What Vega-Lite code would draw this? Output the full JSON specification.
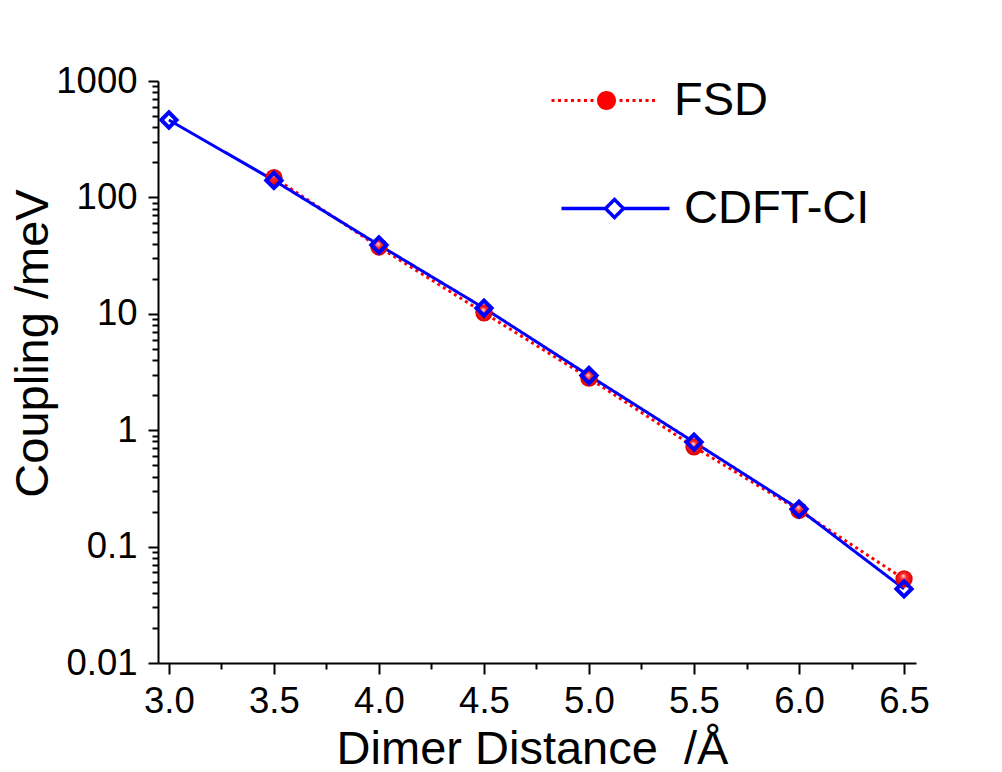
{
  "$schema": "https://vega.github.io/schema/vega-lite/v6.json",
  "width": 758,
  "height": 582,
  "autosize": {"type": "none"},
  "padding": {"left": 158, "top": 81, "right": 86, "bottom": 109},
  "background": "white",
  "config": {
    "view": {"stroke": null},
    "font": "Liberation Sans",
    "axis": {"grid": false, "domainColor": "black", "domainWidth": 2, "tickColor": "black", "tickWidth": 2, "labelColor": "black", "titleColor": "black", "labelFont": "Liberation Sans", "titleFont": "Liberation Sans", "titleFontWeight": "normal"}
  },
  "data": {
    "values": [
      {"d": 3.5, "series": "FSD", "coupling": 148},
      {"d": 4.0, "series": "FSD", "coupling": 37.5},
      {"d": 4.5, "series": "FSD", "coupling": 10.2},
      {"d": 5.0, "series": "FSD", "coupling": 2.8},
      {"d": 5.5, "series": "FSD", "coupling": 0.72},
      {"d": 6.0, "series": "FSD", "coupling": 0.205},
      {"d": 6.5, "series": "FSD", "coupling": 0.0527},
      {"d": 3.0, "series": "CDFT-CI", "coupling": 462},
      {"d": 3.5, "series": "CDFT-CI", "coupling": 140},
      {"d": 4.0, "series": "CDFT-CI", "coupling": 39},
      {"d": 4.5, "series": "CDFT-CI", "coupling": 11.2},
      {"d": 5.0, "series": "CDFT-CI", "coupling": 2.95},
      {"d": 5.5, "series": "CDFT-CI", "coupling": 0.79},
      {"d": 6.0, "series": "CDFT-CI", "coupling": 0.21},
      {"d": 6.5, "series": "CDFT-CI", "coupling": 0.0433}
    ]
  },
  "layer": [
    {
      "mark": {"type": "line", "strokeWidth": 3},
      "encoding": {
        "x": {"field": "d", "type": "quantitative", "scale": {"domain": [2.948, 6.557], "nice": false, "zero": false},
          "axis": {"values": [3.0, 3.25, 3.5, 3.75, 4.0, 4.25, 4.5, 4.75, 5.0, 5.25, 5.5, 5.75, 6.0, 6.25, 6.5], "tickCount": 100,
            "labelExpr": "(datum.value * 2) % 1 == 0 ? format(datum.value, '.1f') : ''",
            "tickSize": {"condition": {"test": "(datum.value * 2) % 1 == 0", "value": 11}, "value": 6},
            "labelFontSize": 36.5, "labelBaseline": "alphabetic", "labelPadding": 38, "labelFlush": false, "labelOverlap": false,
            "title": "Dimer Distance\u00a0\u00a0/Å", "titleFontSize": 47, "titleX": 374, "titleY": 100, "titleBaseline": "alphabetic", "titleAnchor": null}},
        "y": {"field": "coupling", "type": "quantitative", "scale": {"type": "log", "domain": [0.01, 1000], "nice": false},
          "axis": {"values": [0.01, 0.02, 0.03, 0.04, 0.05, 0.06, 0.07, 0.08, 0.09, 0.1, 0.2, 0.3, 0.4, 0.5, 0.6, 0.7, 0.8, 0.9, 1, 2, 3, 4, 5, 6, 7, 8, 9, 10, 20, 30, 40, 50, 60, 70, 80, 90, 100, 200, 300, 400, 500, 600, 700, 800, 900, 1000], "tickCount": 100,
            "labelExpr": "indexof([0.01, 0.1, 1, 10, 100, 1000], datum.value) >= 0 ? format(datum.value, '~g') : ''",
            "tickSize": {"condition": {"test": "indexof([0.01, 0.1, 1, 10, 100, 1000], datum.value) >= 0", "value": 10}, "value": 6},
            "labelFontSize": 36.5, "labelPadding": 11, "labelFlush": false, "labelOverlap": false,
            "title": "Coupling /meV", "titleFontSize": 47, "titleX": -111, "titleY": 262, "titleBaseline": "alphabetic", "titleAnchor": null}},
        "color": {"field": "series", "type": "nominal", "sort": ["FSD", "CDFT-CI"],
          "scale": {"domain": ["FSD", "CDFT-CI"], "range": ["#ff0000", "#0000ff"]},
          "legend": {
            "orient": "none", "legendX": 425, "legendY": -4, "direction": "vertical", "title": null,
            "padding": 0, "labelFontSize": 47, "labelFont": "Liberation Sans", "labelColor": "black",
            "symbolSize": 400, "labelOffset": 44, "rowPadding": 60, "labelLimit": 400,
            "encode": {
              "symbols": {"update": {
                "shape": {"signal": "datum.value === 'FSD' ? 'M-5.5,-0.15h0.3v0.3h-0.3ZM-4.85,-0.15h0.3v0.3h-0.3ZM-4.2,-0.15h0.3v0.3h-0.3ZM-3.55,-0.15h0.3v0.3h-0.3ZM-2.9,-0.15h0.3v0.3h-0.3ZM-2.25,-0.15h0.3v0.3h-0.3ZM-1.6,-0.15h0.3v0.3h-0.3ZM1.3,-0.15h0.3v0.3h-0.3ZM1.95,-0.15h0.3v0.3h-0.3ZM2.6,-0.15h0.3v0.3h-0.3ZM3.25,-0.15h0.3v0.3h-0.3ZM3.9,-0.15h0.3v0.3h-0.3ZM4.55,-0.15h0.3v0.3h-0.3ZM0.95,0A0.95,0.95,0,1,1,-0.95,0A0.95,0.95,0,1,1,0.95,0Z' : 'M-4.5,0H-0.1M1.7,0H6.3M0.8,-0.9L1.7,0L0.8,0.9L-0.1,0Z'"},
                "fill": {"signal": "datum.value === 'FSD' ? '#ff0000' : 'transparent'"},
                "stroke": {"signal": "datum.value === 'FSD' ? 'transparent' : '#0000ff'"},
                "strokeWidth": {"signal": "datum.value === 'FSD' ? 0 : 3.5"},
                "opacity": {"value": 1}
              }},
              "labels": {"update": {"dx": {"signal": "datum.value === 'FSD' ? 0 : 10"}}}
            }
          }},
        "strokeDash": {"field": "series", "type": "nominal",
          "scale": {"domain": ["FSD", "CDFT-CI"], "range": [[3, 3.5], [1, 0]]}, "legend": null}
      }
    },
    {
      "transform": [{"filter": "datum.series === 'FSD'"}],
      "mark": {"type": "point", "shape": "circle", "filled": true, "size": 300, "opacity": 1,
        "fill": {"gradient": "radial", "x1": 0.45, "y1": 0.3, "r1": 0, "x2": 0.5, "y2": 0.5, "r2": 0.5,
          "stops": [{"offset": 0, "color": "#ffe0e0"}, {"offset": 0.35, "color": "#ff2a2a"}, {"offset": 1, "color": "#dd0000"}]}},
      "encoding": {
        "x": {"field": "d", "type": "quantitative"},
        "y": {"field": "coupling", "type": "quantitative"}
      }
    },
    {
      "transform": [{"filter": "datum.series === 'CDFT-CI'"}],
      "mark": {"type": "point", "shape": "diamond", "filled": false, "size": 230, "strokeWidth": 4, "color": "#0000ff", "opacity": 1},
      "encoding": {
        "x": {"field": "d", "type": "quantitative"},
        "y": {"field": "coupling", "type": "quantitative"}
      }
    }
  ]
}
